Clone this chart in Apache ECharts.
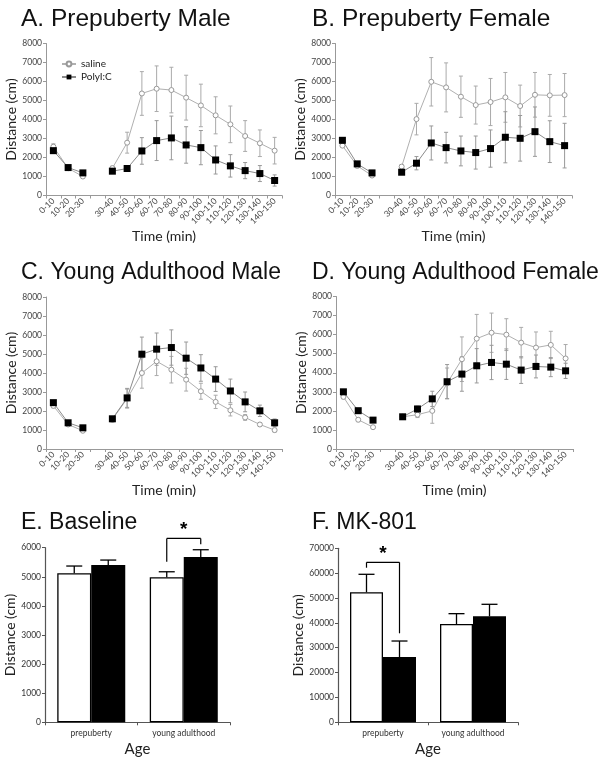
<!DOCTYPE html>
<html><head><meta charset="utf-8">
<script src="https://cdn.jsdelivr.net/npm/echarts@6/dist/echarts.min.js"></script>
<style>html,body{margin:0;padding:0;background:#fff}#c{width:605px;height:763px}</style>
</head><body><div id="c"></div>
<script>
// ---------- data ----------
const timeLabels = ['0-10','10-20','20-30','','30-40','40-50','50-60','60-70','70-80','80-90','90-100','100-110','110-120','120-130','130-140','140-150'];

const aSaline    = [2570,1435,1000,null,1440,2780,5370,5620,5550,5150,4740,4220,3745,3130,2750,2360];
const aSalineErr = [150,100,100,null,100,550,1150,1200,1200,1180,1120,975,965,810,700,700];
const aPoly      = [2360,1470,1190,null,1280,1420,2345,2890,3030,2660,2520,1870,1560,1310,1155,790];
const aPolyErr   = [100,100,100,null,100,100,700,1050,1150,960,900,740,590,425,420,295];

const bSaline    = [2625,1560,1050,null,1520,4020,5985,5690,5200,4760,4920,5165,4710,5300,5270,5285];
const bSalineErr = [100,100,100,null,100,830,1275,1290,1085,1000,1240,1310,1100,1175,1100,1135];
const bPoly      = [2905,1665,1190,null,1225,1700,2765,2520,2345,2260,2470,3065,3010,3360,2835,2625];
const bPolyErr   = [100,100,100,null,100,350,895,805,785,870,980,1345,1200,1300,1100,1175];

const cSaline    = [2270,1290,960,null,1560,2650,4000,4615,4175,3650,3040,2480,2040,1660,1290,995];
const cSalineErr = [100,100,80,null,150,500,800,750,700,600,420,350,300,150,100,100];
const cPoly      = [2440,1380,1115,null,1590,2690,4990,5255,5340,4780,4265,3680,3055,2480,2010,1380];
const cPolyErr   = [100,80,80,null,100,500,900,850,930,850,700,650,625,520,300,200];

const dSaline    = [2735,1535,1145,null,1690,1800,2000,3450,4710,5790,6100,6000,5580,5320,5460,4750];
const dSalineErr = [100,100,80,null,100,150,650,800,1170,1270,1030,835,800,820,715,730];
const dPoly      = [3000,2010,1515,null,1690,2100,2630,3530,3930,4365,4540,4450,4140,4330,4295,4100];
const dPolyErr   = [100,100,80,null,100,150,400,900,900,900,900,800,700,600,500,400];

const ageLabels  = ['prepuberty','young adulthood'];
const eSaline    = [5120,4983];
const eSalineErr = [250,190];
const ePoly      = [5405,5680];
const ePolyErr   = [170,250];
const fSaline    = [52300,39540];
const fSalineErr = [7240,4160];
const fPoly      = [26270,42640];
const fPolyErr   = [6430,4830];

// significance brackets: [category index, bracket top, left leg bottom, right leg bottom]
const eSig = [[1,6320,5520,6120]];
const fSig = [[0,64360,62190,35800]];

const titles = ['A. Prepuberty Male','B. Prepuberty Female','C. Young Adulthood Male','D. Young Adulthood Female','E. Baseline','F. MK-801'];

// ---------- helpers ----------
const SANS = 'Lato';
const TFONT = 'Liberation Sans';
const plain = v => String(v);

function errSeries(vals, errs, gi, color){
  const data = [];
  vals.forEach((v,i)=>{ if(v!=null) data.push([i, v, errs[i]]); });
  return {
    type:'custom', xAxisIndex:gi, yAxisIndex:gi, z:1, silent:true,
    data,
    renderItem:function(params, api){
      const x=api.value(0), v=api.value(1), e=api.value(2);
      const t=api.coord([x, v+e]), b=api.coord([x, v-e]);
      const c=2;
      const st={stroke:color, lineWidth:1};
      return {type:'group', children:[
        {type:'line', shape:{x1:t[0],y1:t[1],x2:b[0],y2:b[1]}, style:st},
        {type:'line', shape:{x1:t[0]-c,y1:t[1],x2:t[0]+c,y2:t[1]}, style:st},
        {type:'line', shape:{x1:b[0]-c,y1:b[1],x2:b[0]+c,y2:b[1]}, style:st}
      ]};
    }
  };
}
function lineSeries(name, vals, gi, saline){
  return saline ? {
    name, type:'line', xAxisIndex:gi, yAxisIndex:gi, data:vals, z:3,
    symbol:'circle', symbolSize:5,
    itemStyle:{color:'#fff', borderColor:'#999', borderWidth:1},
    lineStyle:{color:'#b0b0b0', width:1}
  } : {
    name, type:'line', xAxisIndex:gi, yAxisIndex:gi, data:vals, z:4,
    symbol:'rect', symbolSize:7,
    itemStyle:{color:'#000', borderColor:'#000', borderWidth:0},
    lineStyle:{color:'#8a8a8a', width:1}
  };
}
function barErr(vals, errs, gi, side, bw){
  return {
    type:'custom', xAxisIndex:gi, yAxisIndex:gi, z:1, silent:true,
    data: vals.map((v,i)=>[i, v, errs[i]]),
    renderItem:function(params, api){
      const x=api.value(0), v=api.value(1), e=api.value(2);
      const b=api.coord([x, v]), t=api.coord([x, v+e]);
      const cx=b[0]+side*bw/2;
      const st={stroke:'#000', lineWidth:1.3};
      return {type:'group', children:[
        {type:'line', shape:{x1:cx,y1:b[1],x2:cx,y2:t[1]}, style:st},
        {type:'line', shape:{x1:cx-8,y1:t[1],x2:cx+8,y2:t[1]}, style:st}
      ]};
    }
  };
}
function sigSeries(sig, gi, bw){
  return {
    type:'custom', xAxisIndex:gi, yAxisIndex:gi, z:5, silent:true, clip:false,
    data: sig,
    renderItem:function(params, api){
      const x=api.value(0);
      const top=api.coord([x, api.value(1)]);
      const lb=api.coord([x, api.value(2)]);
      const rb=api.coord([x, api.value(3)]);
      const xl=top[0]-bw/2, xr=top[0]+bw/2;
      const st={stroke:'#000', lineWidth:1.2};
      return {type:'group', children:[
        {type:'line', shape:{x1:xl,y1:top[1],x2:xr,y2:top[1]}, style:st},
        {type:'line', shape:{x1:xl,y1:top[1],x2:xl,y2:lb[1]}, style:st},
        {type:'line', shape:{x1:xr,y1:top[1],x2:xr,y2:rb[1]}, style:st},
        {type:'text', style:{text:'*', x:(xl+xr)/2, y:top[1]+1, fontSize:19, fontFamily:TFONT, fontWeight:'bold', fill:'#000', textAlign:'center', textVerticalAlign:'bottom'}}
      ]};
    }
  };
}

// ---------- layout ----------
const grids = [
  {left:46,  top:43.5,  width:236, height:152},
  {left:335, top:43.5,  width:237, height:152},
  {left:46,  top:297,   width:236, height:152},
  {left:336, top:296.5, width:237, height:152.5},
  {left:45,  top:547.7, width:185, height:174.6},
  {left:338, top:548.3, width:180, height:174}
];
const titlePos = [[16,2],[307,2],[16,256],[307,256],[16,506],[307,506]];
const titleSize = [24.5,24.5,23,23,23,23];
const yNameGap = [27,25,27,25,25,29];

const xAxes=[], yAxes=[];
for(let g=0; g<4; g++){
  xAxes.push({
    type:'category', gridIndex:g, data:timeLabels, boundaryGap:true,
    axisLine:{lineStyle:{color:'#999', width:1}},
    axisTick:{show:true, length:3, lineStyle:{color:'#999'}},
    axisLabel:{interval:0, rotate:45, fontSize:8.5, color:'#444', fontFamily:SANS, margin:4},
    name:'Time (min)', nameLocation:'middle', nameGap:34,
    nameTextStyle:{fontSize:14, color:'#222', fontFamily:SANS}
  });
  yAxes.push({
    type:'value', gridIndex:g, min:0, max:8000, interval:1000,
    splitLine:{show:false},
    axisLine:{show:true, lineStyle:{color:'#999', width:1}},
    axisTick:{show:true, length:3, lineStyle:{color:'#999'}},
    axisLabel:{fontSize:8.5, color:'#444', fontFamily:SANS, margin:4, formatter:plain},
    name:'Distance (cm)', nameLocation:'middle', nameGap:yNameGap[g],
    nameTextStyle:{fontSize:14, color:'#222', fontFamily:SANS}
  });
}
[[4,6000,1000],[5,70000,10000]].forEach(([g,max,iv])=>{
  xAxes.push({
    type:'category', gridIndex:g, data:ageLabels,
    axisLine:{lineStyle:{color:'#555', width:1.2}},
    axisTick:{show:true, length:3, lineStyle:{color:'#555'}},
    axisLabel:{fontSize:8.5, color:'#333', fontFamily:SANS, margin:6},
    name:'Age', nameLocation:'middle', nameGap:19,
    nameTextStyle:{fontSize:15, color:'#222', fontFamily:SANS}
  });
  yAxes.push({
    type:'value', gridIndex:g, min:0, max:max, interval:iv,
    splitLine:{show:false},
    axisLine:{show:true, lineStyle:{color:'#555', width:1.2}},
    axisTick:{show:true, length:3, lineStyle:{color:'#555'}},
    axisLabel:{fontSize:8.5, color:'#333', fontFamily:SANS, margin:4, formatter:plain},
    name:'Distance (cm)', nameLocation:'middle', nameGap:yNameGap[g],
    nameTextStyle:{fontSize:14, color:'#222', fontFamily:SANS}
  });
});

const panels = [
  [aSaline,aSalineErr,aPoly,aPolyErr],
  [bSaline,bSalineErr,bPoly,bPolyErr],
  [cSaline,cSalineErr,cPoly,cPolyErr],
  [dSaline,dSalineErr,dPoly,dPolyErr]
];
const series=[];
panels.forEach((p,g)=>{
  series.push(errSeries(p[0],p[1],g,'#aaa'));
  series.push(errSeries(p[2],p[3],g,'#999'));
  series.push(lineSeries('saline',p[0],g,true));
  series.push(lineSeries('PolyI:C',p[2],g,false));
});
[[4,eSaline,eSalineErr,ePoly,ePolyErr,eSig,34],[5,fSaline,fSalineErr,fPoly,fPolyErr,fSig,33]].forEach(([g,s,se,p,pe,sig,bw])=>{
  series.push({type:'bar', xAxisIndex:g, yAxisIndex:g, data:s, barWidth:bw, barGap:'0%', z:2,
    itemStyle:{color:'#fff', borderColor:'#000', borderWidth:1.3}});
  series.push({type:'bar', xAxisIndex:g, yAxisIndex:g, data:p, barWidth:bw, barGap:'0%', z:2,
    itemStyle:{color:'#000', borderColor:'#000', borderWidth:1.3}});
  series.push(barErr(s,se,g,-1,bw));
  series.push(barErr(p,pe,g,1,bw));
  series.push(sigSeries(sig,g,bw));
});

const option = {
  animation:false,
  backgroundColor:'#fff',
  title: titles.map((t,i)=>({text:t, left:titlePos[i][0], top:titlePos[i][1],
    textStyle:{fontFamily:TFONT, fontSize:titleSize[i], fontWeight:'normal', color:'#111'}})),
  legend:{data:['saline','PolyI:C'], left:56, top:54, orient:'vertical', itemGap:3,
    itemWidth:14, itemHeight:6, textStyle:{fontSize:10, color:'#222', fontFamily:SANS}},
  grid:grids, xAxis:xAxes, yAxis:yAxes, series
};
const chart = echarts.init(document.getElementById('c'), null, {renderer:'canvas'});
chart.setOption(option);
</script></body></html>
